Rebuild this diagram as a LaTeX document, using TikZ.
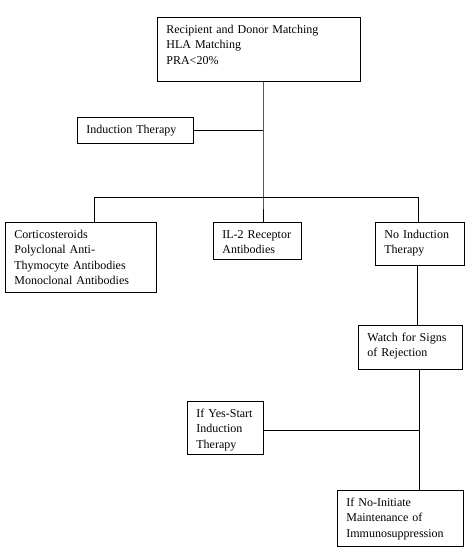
\documentclass[tikz,border=0pt]{standalone}
\usepackage{fontspec}
\setmainfont{Liberation Serif}
\usepackage{tikz}

\begin{document}
\begin{tikzpicture}[x=1pt,y=-1pt]
                    \tikzstyle{mybox}=[draw,line width=0.8pt,anchor=north west,align=left,inner xsep=9pt,inner ysep=3.5pt,text height=12.5pt,font=\fontsize{12}{15.4}\selectfont]
                    \tikzstyle{myline}=[line width=0.8pt]
                    \useasboundingbox (0,0) rectangle (466,560);
                    \node[mybox,text width=185pt,text depth=44.5pt] (match) at (157,17) {Recipient and Donor Matching\\HLA Matching\\PRA<20\%};
                    \node[mybox,text width=98pt,text depth=6.5pt] (induct) at (77,117) {Induction Therapy};
                    \node[mybox,text width=133pt,text depth=50.5pt] (agents) at (5,222) {Corticosteroids\\Polyclonal Anti-\\Thymocyte Antibodies\\Monoclonal Antibodies};
                    \node[mybox,text width=70pt,text depth=17.5pt] (il2) at (213,222) {IL-2 Receptor\\Antibodies};
                    \node[mybox,text width=71pt,text depth=23.5pt] (noind) at (375,222) {No Induction\\Therapy};
                    \node[mybox,text width=86pt,text depth=24.5pt] (watch) at (358,325) {Watch for Signs\\of Rejection};
                    \node[mybox,text width=58pt,text depth=33.5pt] (yes) at (187,401) {If~Yes-Start\\Induction\\Therapy};
                    \node[mybox,text width=108pt,text depth=36.5pt] (no) at (337,490) {If No-Initiate\\Maintenance of\\Immunosuppression};
                    \coordinate (hub) at (263,197);
                    \coordinate (lb) at (94,197);
                    \coordinate (rb) at (418,197);
                    \coordinate (rv) at (419,430);
                    \draw[myline] (match.south -| hub) -- (hub) -- (hub |- il2.north);
                    \draw[myline] (induct.east) -- (induct.east -| hub);
                    \draw[myline] (lb |- agents.north) -- (lb) -- (rb) -- (rb |- noind.north);
                    \draw[myline] ([xshift=-3pt]noind.south) -- ([xshift=-3pt]noind.south |- watch.north);
                    \draw[myline] (rv |- watch.south) -- (rv |- no.north);
                    \draw[myline] (yes.east |- rv) -- (rv);
                \end{tikzpicture}
\end{document}
